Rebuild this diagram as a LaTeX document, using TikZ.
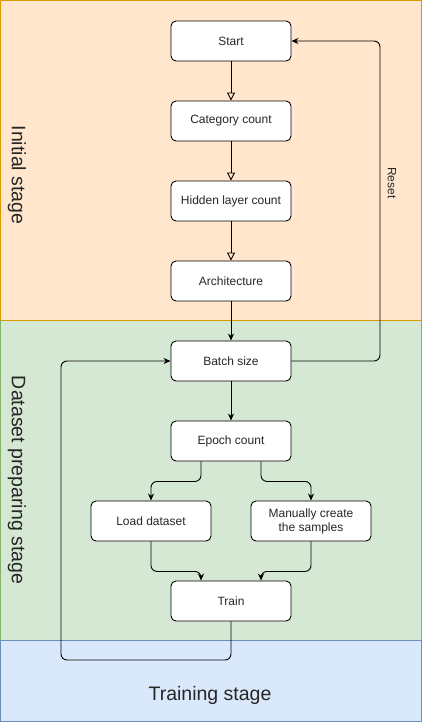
\documentclass[tikz,border=0pt]{standalone}
\usepackage{fontspec}
\setmainfont{Liberation Sans}
\usetikzlibrary{arrows.meta}
\definecolor{iniFill}{HTML}{FFE6CC}
\definecolor{iniLine}{HTML}{D79B00}
\definecolor{dsFill}{HTML}{D5E8D4}
\definecolor{dsLine}{HTML}{82B366}
\definecolor{trFill}{HTML}{DAE8FC}
\definecolor{trLine}{HTML}{6C8EBF}
\tikzset{
  etapa/.style={draw, fill=white, rounded corners=5pt, line width=0.9pt,
    minimum width=120pt, minimum height=40pt, align=center,
    font=\fontsize{12}{14}\selectfont, text=black!85},
  seta/.style={line width=0.9pt, rounded corners=6pt, -{Stealth[length=7pt,width=6pt]}},
  setaab/.style={line width=0.9pt, -{Triangle[open,length=8pt,width=8pt]}},
  faixa/.style={font=\fontsize{19.5}{22}\selectfont, text=black!85}
}
\begin{document}
\begin{tikzpicture}[x=1pt,y=-1pt]
  \useasboundingbox (0,0) rectangle (422,722);
  % Faixas das etapas
  \draw[iniLine, fill=iniFill, line width=1pt] (0.5,0.5) rectangle (421,320);
  \draw[dsLine, fill=dsFill, line width=1pt] (0.5,320) rectangle (421,640);
  \draw[trLine, fill=trFill, line width=1pt] (0.5,640) rectangle (421,721);
  \draw[iniLine, line width=1pt] (0.5,320) -- (421,320);
  \node[faixa, rotate=-90] (lblIni) at (17,175) {Initial stage};
  \node[faixa, rotate=-90] (lblDs) at (17,480) {Dataset preparing stage};
  \node[faixa] (lblTr) at (210,695) {Training stage};
  % Caixas do fluxo
  \node[etapa] (start) at (231,41) {Start};
  \node[etapa] (catcount) at (231,121) {Category count};
  \node[etapa] (hidcount) at (231,201) {Hidden layer count};
  \node[etapa] (arch) at (231,281) {Architecture};
  \node[etapa] (batch) at (231,361) {Batch size};
  \node[etapa] (epoch) at (231,441) {Epoch count};
  \node[etapa] (load) at (151,521) {Load dataset};
  \node[etapa] (manual) at (311,521) {Manually create\\the samples};
  \node[etapa] (train) at (231,601) {Train};
  % Ligacoes
  \draw[setaab] (start) -- (catcount);
  \draw[setaab] (catcount) -- (hidcount);
  \draw[setaab] (hidcount) -- (arch);
  \draw[seta] (arch) -- (batch);
  \draw[seta] (batch) -- (epoch);
  \draw[seta] ([xshift=-30pt]epoch.south) -- ++(0,20) -| (load.north);
  \draw[seta] ([xshift=30pt]epoch.south) -- ++(0,20) -| (manual.north);
  \draw[seta] (load.south) -- ++(0,30) -| ([xshift=-30pt]train.north);
  \draw[seta] (manual.south) -- ++(0,30) -| ([xshift=30pt]train.north);
  % Laco de treino e reset
  \coordinate (loopL) at (61,660);
  \coordinate (resetR) at (380,200);
  \draw[seta] (train.south) |- (loopL) |- (batch.west);
  \draw[seta] (batch.east) -| (resetR) |- (start.east);
  \node[rotate=-90, font=\fontsize{12}{14}\selectfont, text=black!85] (reset) at (392,183) {Reset};
\end{tikzpicture}
\end{document}
